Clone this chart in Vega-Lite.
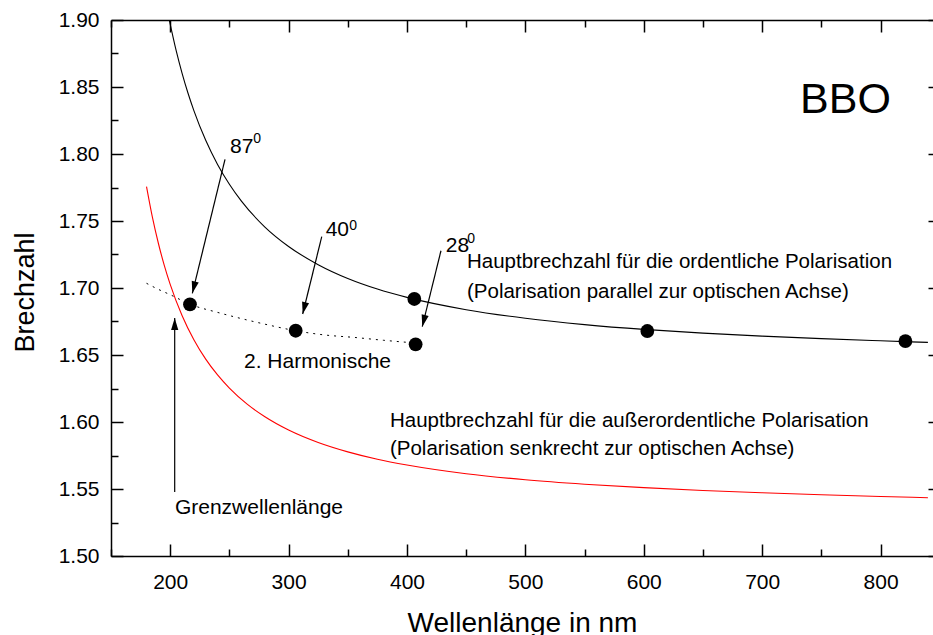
{
  "$schema": "https://vega.github.io/schema/vega-lite/v6.json",
  "autosize": {"type": "none"},
  "padding": {"left": 111, "top": 20, "right": 0, "bottom": 79},
  "width": 822,
  "height": 536,
  "background": "white",
  "config": {
    "view": {"stroke": null},
    "font": "Liberation Sans",
    "axis": {"grid": false, "domainColor": "black", "domainWidth": 1.5, "tickColor": "black", "tickWidth": 1.5, "labelColor": "black", "titleColor": "black", "labelFont": "Liberation Sans", "titleFont": "Liberation Sans", "titleFontWeight": "normal"}
  },
  "datasets": {
    "extraordinary": [
      {"wl": 180, "n": 1.7757}, {"wl": 185, "n": 1.7527}, {"wl": 190, "n": 1.7334}, {"wl": 195, "n": 1.7169},
      {"wl": 200, "n": 1.7027}, {"wl": 210, "n": 1.6795}, {"wl": 220, "n": 1.6614}, {"wl": 230, "n": 1.6469},
      {"wl": 240, "n": 1.6351}, {"wl": 250, "n": 1.6253}, {"wl": 265, "n": 1.6133}, {"wl": 280, "n": 1.6039},
      {"wl": 300, "n": 1.5940}, {"wl": 325, "n": 1.5847}, {"wl": 350, "n": 1.5777}, {"wl": 375, "n": 1.5722},
      {"wl": 400, "n": 1.5679}, {"wl": 450, "n": 1.5614}, {"wl": 500, "n": 1.5569}, {"wl": 550, "n": 1.5536},
      {"wl": 600, "n": 1.5510}, {"wl": 650, "n": 1.5489}, {"wl": 700, "n": 1.5472}, {"wl": 750, "n": 1.5457},
      {"wl": 800, "n": 1.5444}, {"wl": 840, "n": 1.5435}
    ],
    "ordinary": [
      {"wl": 199.3, "n": 1.8997}, {"wl": 205, "n": 1.8773}, {"wl": 210, "n": 1.8604}, {"wl": 215, "n": 1.8455},
      {"wl": 220, "n": 1.8324}, {"wl": 230, "n": 1.8102}, {"wl": 240, "n": 1.7922}, {"wl": 250, "n": 1.7774},
      {"wl": 260, "n": 1.7650}, {"wl": 280, "n": 1.7455}, {"wl": 300, "n": 1.7310}, {"wl": 325, "n": 1.7174},
      {"wl": 350, "n": 1.7071}, {"wl": 375, "n": 1.6992}, {"wl": 400, "n": 1.6930}, {"wl": 450, "n": 1.6838},
      {"wl": 500, "n": 1.6774}, {"wl": 550, "n": 1.6727}, {"wl": 600, "n": 1.6691}, {"wl": 650, "n": 1.6663},
      {"wl": 700, "n": 1.6641}, {"wl": 750, "n": 1.6622}, {"wl": 800, "n": 1.6606}, {"wl": 840, "n": 1.6594}
    ],
    "shg": [
      {"wl": 180, "n": 1.7035}, {"wl": 190, "n": 1.6990}, {"wl": 200, "n": 1.6950}, {"wl": 217, "n": 1.6878},
      {"wl": 240, "n": 1.6818}, {"wl": 260, "n": 1.6772}, {"wl": 280, "n": 1.6730}, {"wl": 306, "n": 1.6681},
      {"wl": 330, "n": 1.6650}, {"wl": 357, "n": 1.6630}, {"wl": 380, "n": 1.6610}, {"wl": 407, "n": 1.6590},
      {"wl": 415, "n": 1.6585}
    ],
    "dots": [
      {"wl": 406.2, "n": 1.6918}, {"wl": 603, "n": 1.6679}, {"wl": 821, "n": 1.6604},
      {"wl": 216.7, "n": 1.6878}, {"wl": 306, "n": 1.6681}, {"wl": 407.3, "n": 1.6580}
    ],
    "arrows": [
      {"id": "87", "wl": 246.3, "n": 1.7960, "wl2": 218.7, "n2": 1.6960},
      {"id": "40", "wl": 328.0, "n": 1.7383, "wl2": 311.9, "n2": 1.6806},
      {"id": "28", "wl": 428.7, "n": 1.7278, "wl2": 412.9, "n2": 1.6711},
      {"id": "grenz", "wl": 203.8, "n": 1.5478, "wl2": 203.8, "n2": 1.6776}
    ],
    "notes": [
      {"wl": 450.7, "n": 1.7149, "text": "Hauptbrechzahl für die ordentliche Polarisation"},
      {"wl": 450.7, "n": 1.6925, "text": "(Polarisation parallel zur optischen Achse)"},
      {"wl": 385.6, "n": 1.5965, "text": "Hauptbrechzahl für die außerordentliche Polarisation"},
      {"wl": 385.6, "n": 1.5754, "text": "(Polarisation senkrecht zur optischen Achse)"}
    ],
    "labels": [
      {"wl": 262.3, "n": 1.6403, "text": "2. Harmonische"},
      {"wl": 204.0, "n": 1.5313, "text": "Grenzwellenlänge"},
      {"wl": 250.5, "n": 1.8007, "text": "87"},
      {"wl": 331.3, "n": 1.7388, "text": "40"},
      {"wl": 432.7, "n": 1.7271, "text": "28"}
    ],
    "sups": [
      {"wl": 270.2, "n": 1.8080, "text": "0"},
      {"wl": 351.3, "n": 1.7433, "text": "0"},
      {"wl": 450.9, "n": 1.7334, "text": "0"}
    ],
    "title": [
      {"wl": 732, "n": 1.8306, "text": "BBO"}
    ]
  },
  "resolve": {"axis": {"x": "independent", "y": "independent"}},
  "layer": [
    {
      "data": {"name": "extraordinary"},
      "mark": {"type": "line", "color": "#ff0000", "strokeWidth": 1.1, "interpolate": "monotone"},
      "encoding": {
        "x": {"field": "wl", "type": "quantitative", "scale": {"domain": [150, 844.3], "nice": false, "zero": false},
          "axis": {"orient": "bottom", "values": [150,200,250,300,350,400,450,500,550,600,650,700,750,800],
            "tickSize": {"condition": {"test": "datum.value % 100 === 0", "value": -12}, "value": -7},
            "labelExpr": "datum.value % 100 === 0 ? datum.label : ''",
            "labelFontSize": 21, "labelPadding": 27, "labelBaseline": "top",
            "title": "Wellenlänge in nm", "titleFontSize": 28, "titleY": 75, "titleBaseline": "alphabetic"}},
        "y": {"field": "n", "type": "quantitative", "scale": {"domain": [1.5, 1.9], "nice": false, "zero": false},
          "axis": {"orient": "left", "values": [1.5,1.525,1.55,1.575,1.6,1.625,1.65,1.675,1.7,1.725,1.75,1.775,1.8,1.825,1.85,1.875,1.9],
            "format": ".2f",
            "tickSize": {"condition": {"test": "round(datum.value*40) % 2 === 0", "value": -12}, "value": -7},
            "labelExpr": "round(datum.value*40) % 2 === 0 ? datum.label : ''",
            "labelFontSize": 21, "labelPadding": 24,
            "title": "Brechzahl", "titleFontSize": 27, "titleX": -78, "titleY": 272, "titleBaseline": "alphabetic", "titleAngle": -90}}
      }
    },
    {
      "data": {"name": "ordinary"},
      "mark": {"type": "line", "color": "black", "strokeWidth": 1.1, "interpolate": "monotone"},
      "encoding": {
        "x": {"field": "wl", "type": "quantitative",
          "axis": {"orient": "top", "values": [150,200,250,300,350,400,450,500,550,600,650,700,750,800],
            "tickSize": {"condition": {"test": "datum.value % 100 === 0", "value": -12}, "value": -7},
            "labels": false, "title": null}},
        "y": {"field": "n", "type": "quantitative",
          "axis": {"orient": "right", "offset": 7, "values": [1.5,1.525,1.55,1.575,1.6,1.625,1.65,1.675,1.7,1.725,1.75,1.775,1.8,1.825,1.85,1.875,1.9],
            "tickSize": {"condition": {"test": "round(datum.value*40) % 2 === 0", "value": -12}, "value": -7},
            "labels": false, "title": null}}
      }
    },
    {
      "data": {"name": "shg"},
      "mark": {"type": "line", "color": "black", "strokeWidth": 1, "strokeDash": [2, 5], "interpolate": "monotone"},
      "encoding": {
        "x": {"field": "wl", "type": "quantitative", "axis": null},
        "y": {"field": "n", "type": "quantitative", "axis": null}
      }
    },
    {
      "data": {"name": "dots"},
      "mark": {"type": "point", "shape": "circle", "filled": true, "color": "black", "opacity": 1, "size": 190},
      "encoding": {
        "x": {"field": "wl", "type": "quantitative", "axis": null},
        "y": {"field": "n", "type": "quantitative", "axis": null}
      }
    },
    {
      "data": {"name": "arrows"},
      "mark": {"type": "rule", "color": "black", "strokeWidth": 1.2},
      "encoding": {
        "x": {"field": "wl", "type": "quantitative", "axis": null},
        "y": {"field": "n", "type": "quantitative", "axis": null},
        "x2": {"field": "wl2"},
        "y2": {"field": "n2"}
      }
    },
    {
      "data": {"name": "arrows"},
      "transform": [{"filter": "datum.id !== 'grenz'"}],
      "mark": {"type": "point", "shape": "M0,0 L-0.3,1 L0.3,1 Z", "filled": true, "color": "black", "opacity": 1, "size": 576, "angle": 194, "strokeWidth": 0},
      "encoding": {
        "x": {"field": "wl2", "type": "quantitative", "axis": null},
        "y": {"field": "n2", "type": "quantitative", "axis": null}
      }
    },
    {
      "data": {"name": "arrows"},
      "transform": [{"filter": "datum.id === 'grenz'"}],
      "mark": {"type": "point", "shape": "M0,0 L-0.3,1 L0.3,1 Z", "filled": true, "color": "black", "opacity": 1, "size": 576, "angle": 0, "strokeWidth": 0},
      "encoding": {
        "x": {"field": "wl2", "type": "quantitative", "axis": null},
        "y": {"field": "n2", "type": "quantitative", "axis": null}
      }
    },
    {
      "data": {"name": "notes"},
      "mark": {"type": "text", "align": "left", "baseline": "alphabetic", "fontSize": 20.5, "color": "black", "font": "Liberation Sans"},
      "encoding": {
        "x": {"field": "wl", "type": "quantitative", "axis": null},
        "y": {"field": "n", "type": "quantitative", "axis": null},
        "text": {"field": "text"}
      }
    },
    {
      "data": {"name": "labels"},
      "mark": {"type": "text", "align": "left", "baseline": "alphabetic", "fontSize": 21, "color": "black", "font": "Liberation Sans"},
      "encoding": {
        "x": {"field": "wl", "type": "quantitative", "axis": null},
        "y": {"field": "n", "type": "quantitative", "axis": null},
        "text": {"field": "text"}
      }
    },
    {
      "data": {"name": "sups"},
      "mark": {"type": "text", "align": "left", "baseline": "alphabetic", "fontSize": 14, "color": "black", "font": "Liberation Sans"},
      "encoding": {
        "x": {"field": "wl", "type": "quantitative", "axis": null},
        "y": {"field": "n", "type": "quantitative", "axis": null},
        "text": {"field": "text"}
      }
    },
    {
      "data": {"name": "title"},
      "mark": {"type": "text", "align": "left", "baseline": "alphabetic", "fontSize": 43, "color": "black", "font": "Liberation Sans"},
      "encoding": {
        "x": {"field": "wl", "type": "quantitative", "axis": null},
        "y": {"field": "n", "type": "quantitative", "axis": null},
        "text": {"field": "text"}
      }
    }
  ]
}
